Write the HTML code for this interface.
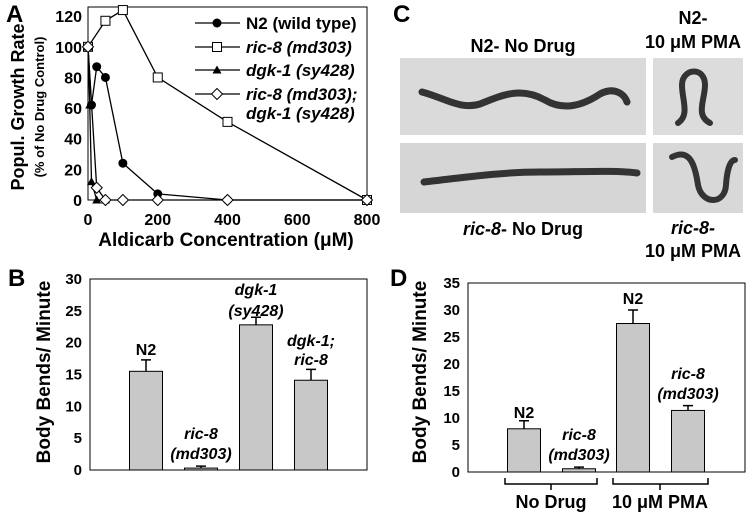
<!DOCTYPE html>
<html><head><meta charset="utf-8"><style>
html,body{margin:0;padding:0;background:#fff;}
svg{display:block;font-family:"Liberation Sans",Arial,sans-serif;font-weight:bold;}
</style></head><body>
<svg id="fig" width="750" height="515" viewBox="0 0 750 515" xmlns="http://www.w3.org/2000/svg">
<g id="pA"></g>
<g id="pB"></g>
<g id="pD"></g>
<g>
  <text x="393" y="22" font-size="24">C</text>
  <text x="523" y="52" font-size="18" text-anchor="middle">N2- No Drug</text>
  <text x="693" y="24" font-size="18" text-anchor="middle">N2-</text>
  <text x="693" y="48" font-size="18" text-anchor="middle">10 μM PMA</text>
  <text x="523" y="235" font-size="18" text-anchor="middle"><tspan font-style="italic">ric-8</tspan>- No Drug</text>
  <text x="693" y="234" font-size="18" text-anchor="middle" font-style="italic">ric-8-</text>
  <text x="693" y="257" font-size="18" text-anchor="middle">10 μM PMA</text>
  <rect x="400" y="58" width="246" height="77" fill="#dadada"/>
  <rect x="400" y="143" width="246" height="70" fill="#d6d6d6"/>
  <rect x="653" y="58" width="90" height="77" fill="#dcdcdc"/>
  <rect x="653" y="143" width="90" height="70" fill="#d8d8d8"/>
  <path d="M422 92 C445 98 460 110 480 104 C500 96 520 86 545 100 C565 112 585 104 600 94 C615 86 625 95 627 102" stroke="#333" stroke-width="7" fill="none" stroke-linecap="round"/>
  <path d="M424 182 C460 178 500 172 540 172 C580 172 615 170 637 173" stroke="#333" stroke-width="7" fill="none" stroke-linecap="round"/>
  <path d="M678 123 C690 115 682 100 682 85 C682 68 705 66 705 85 C705 100 695 115 710 123" stroke="#333" stroke-width="6" fill="none" stroke-linecap="round"/>
  <path d="M672 157 C690 148 695 165 698 185 C702 205 725 205 726 185 C727 170 730 160 735 160" stroke="#333" stroke-width="6" fill="none" stroke-linecap="round"/>
</g>
<script>
var NS='http://www.w3.org/2000/svg';
function mk(p,tag,at,txt){var e=document.createElementNS(NS,tag);for(var k in at)e.setAttribute(k,at[k]);if(txt!==undefined)e.textContent=txt;p.appendChild(e);return e;}

// ---- Panel A data ----
var aXTicks=[0,200,400,600,800];
var aYTicks=[0,20,40,60,80,100,120];
var n2X=[0,10,25,50,100,200,400,800];
var n2Y=[100,62,87,80,24,4,0,0];
var ric8X=[0,50,100,200,400,800];
var ric8Y=[100,117,124,80,51,0];
var dgkX=[0,5,10,25,50];
var dgkY=[100,62,12,0,0];
var dblX=[0,25,50,100,200,400,800];
var dblY=[100,8,0,0,0,0,0];

// ---- Panel B data ----
var bCats=['N2','ric-8 (md303)','dgk-1 (sy428)','dgk-1; ric-8'];
var bVals=[15.5,0.3,22.8,14.1];
var bErr=[1.8,0.3,1.2,1.7];
var bTicks=[0,5,10,15,20,25,30];

// ---- Panel D data ----
var dCats=['N2 no drug','ric-8 no drug','N2 PMA','ric-8 PMA'];
var dVals=[8,0.6,27.5,11.4];
var dErr=[1.5,0.3,2.5,0.9];
var dTicks=[0,5,10,15,20,25,30,35];

(function(){
var g=document.getElementById('pA');
var L=88,R=367,T=7,B=200;
function sx(v){return L+v/800*(R-L);}
function sy(v){return B-v/126*(B-T);}
var t=mk(g,'text',{x:6,y:22,'font-size':24});t.textContent='A';


var fr=mk(g,'rect',{x:L,y:T,width:R-L,height:B-T,fill:'none',stroke:'#000','stroke-width':1});


aYTicks.forEach(function(v){
  var e=mk(g,'text',{x:L-6,y:sy(v)+6,'font-size':16,'text-anchor':'end'},String(v));
  
  
});
aXTicks.forEach(function(v){
  var e=mk(g,'text',{x:sx(v),y:225,'font-size':16,'text-anchor':'middle'},String(v));
  
  
});
var xt=mk(g,'text',{x:226,y:246,'font-size':19,'text-anchor':'middle'},'Aldicarb Concentration (μM)');


var yt=mk(g,'text',{x:0,y:0,'font-size':18,'text-anchor':'middle',transform:'translate(24,107) rotate(-90)'},'Popul. Growth Rate');


var yt2=mk(g,'text',{x:0,y:0,'font-size':13,'text-anchor':'middle',transform:'translate(44,107) rotate(-90)'},'(% of No Drug Control)');


function series(xs,ys,type,name){
  var pts=xs.map(function(x,i){return sx(x)+','+sy(ys[i]);}).join(' ');
  var pl=mk(g,'polyline',{points:pts,fill:'none',stroke:'#000','stroke-width':1.3});
  
  
  xs.forEach(function(x,i){marker(sx(x),sy(ys[i]),type,name);});
}
function marker(cx,cy,type,name){
  var m;
  if(type==='circle')m=mk(g,'circle',{cx:cx,cy:cy,r:4.5,fill:'#000'});
  else if(type==='square')m=mk(g,'rect',{x:cx-4.5,y:cy-4.5,width:9,height:9,fill:'#fff',stroke:'#000','stroke-width':1});
  else if(type==='tri')m=mk(g,'polygon',{points:(cx)+','+(cy-4.5)+' '+(cx+4.5)+','+(cy+3.5)+' '+(cx-4.5)+','+(cy+3.5),fill:'#000'});
  else m=mk(g,'polygon',{points:cx+','+(cy-5.5)+' '+(cx+5.5)+','+cy+' '+cx+','+(cy+5.5)+' '+(cx-5.5)+','+cy,fill:'#fff',stroke:'#000','stroke-width':1});
  
  
}
series(ric8X,ric8Y,'square','ric8');
series(n2X,n2Y,'circle','n2');
series(dgkX,dgkY,'tri','dgk1');
series(dblX,dblY,'diamond','ric8-dgk1');
var leg=[['circle',23,'N2 (wild type)',false],['square',47,'ric-8 (md303)',true],['tri',70,'dgk-1 (sy428)',true],['diamond',94,'ric-8 (md303);',true]];
leg.forEach(function(r){
  var ln=mk(g,'line',{x1:195,y1:r[1],x2:240,y2:r[1],stroke:'#000','stroke-width':1.3});
  
  
  marker(217,r[1],r[0],'legend');
  var e=mk(g,'text',{x:246,y:r[1]+6,'font-size':17,'font-style':r[3]?'italic':'normal'},r[2]);
  
  
});
var e2=mk(g,'text',{x:246,y:119,'font-size':17,'font-style':'italic'},'dgk-1 (sy428)');


})();

function barPanel(id,letter,lx,L,R,T,B,max,ticks,vals,errs,centers,labels,titleX){
  var g=document.getElementById(id);
  function sy(v){return B-v/max*(B-T);}
  var t=mk(g,'text',{x:lx,y:286,'font-size':24},letter);
  
  
  var fr=mk(g,'rect',{x:L,y:T,width:R-L,height:B-T,fill:'none',stroke:'#000','stroke-width':1});
  
  
  ticks.forEach(function(v){
    var e=mk(g,'text',{x:L-8,y:sy(v)+5,'font-size':15,'text-anchor':'end'},String(v));
    
    
  });
  var yt=mk(g,'text',{x:0,y:0,'font-size':19,'text-anchor':'middle',transform:'translate('+titleX+',372) rotate(-90)'},'Body Bends/ Minute');
  
  
  vals.forEach(function(v,i){
    var c=centers[i],w=33;
    var r=mk(g,'rect',{x:c-w/2,y:sy(v),width:w,height:B-sy(v),fill:'#c8c8c8',stroke:'#000','stroke-width':1});
    
    
    var top=sy(v+errs[i]);
    var el=mk(g,'path',{d:'M'+c+' '+sy(v)+' V'+top+' M'+(c-5)+' '+top+' H'+(c+5),stroke:'#000','stroke-width':1.5,fill:'none'});
    
    
  });
  labels.forEach(function(lb){
    var e=mk(g,'text',{x:lb[0],y:lb[1],'font-size':16,'text-anchor':'middle','font-style':lb[3]?'italic':'normal'},lb[2]);
    
    
  });
  return {g:g,sy:sy};
}
barPanel('pB','B',8,90,367,279,470,30,bTicks,bVals,bErr,[146,201,256,311],
  [[146,355,'N2',false],[201,439,'ric-8',true],[201,459,'(md303)',true],[256,295,'dgk-1',true],[256,316,'(sy428)',true],[311,346,'dgk-1;',true],[311,365,'ric-8',true]],50);
var dp=barPanel('pD','D',390,468,745,283,472,35,dTicks,dVals,dErr,[524,579,633,688],
  [[524,418,'N2',false],[579,440,'ric-8',true],[579,460,'(md303)',true],[633,304,'N2',false],[688,379,'ric-8',true],[688,399,'(md303)',true]],426);
[[505,597,551,'No Drug'],[613,708,660,'10 μM PMA']].forEach(function(b){
  var p=mk(dp.g,'path',{d:'M'+b[0]+' 478 V484 H'+b[1]+' V478 M'+b[2]+' 484 V490',stroke:'#000','stroke-width':1.5,fill:'none'});
  
  
  var e=mk(dp.g,'text',{x:b[2],y:508,'font-size':18,'text-anchor':'middle'},b[3]);
  
  
});
</script>
</svg>
</body></html>
